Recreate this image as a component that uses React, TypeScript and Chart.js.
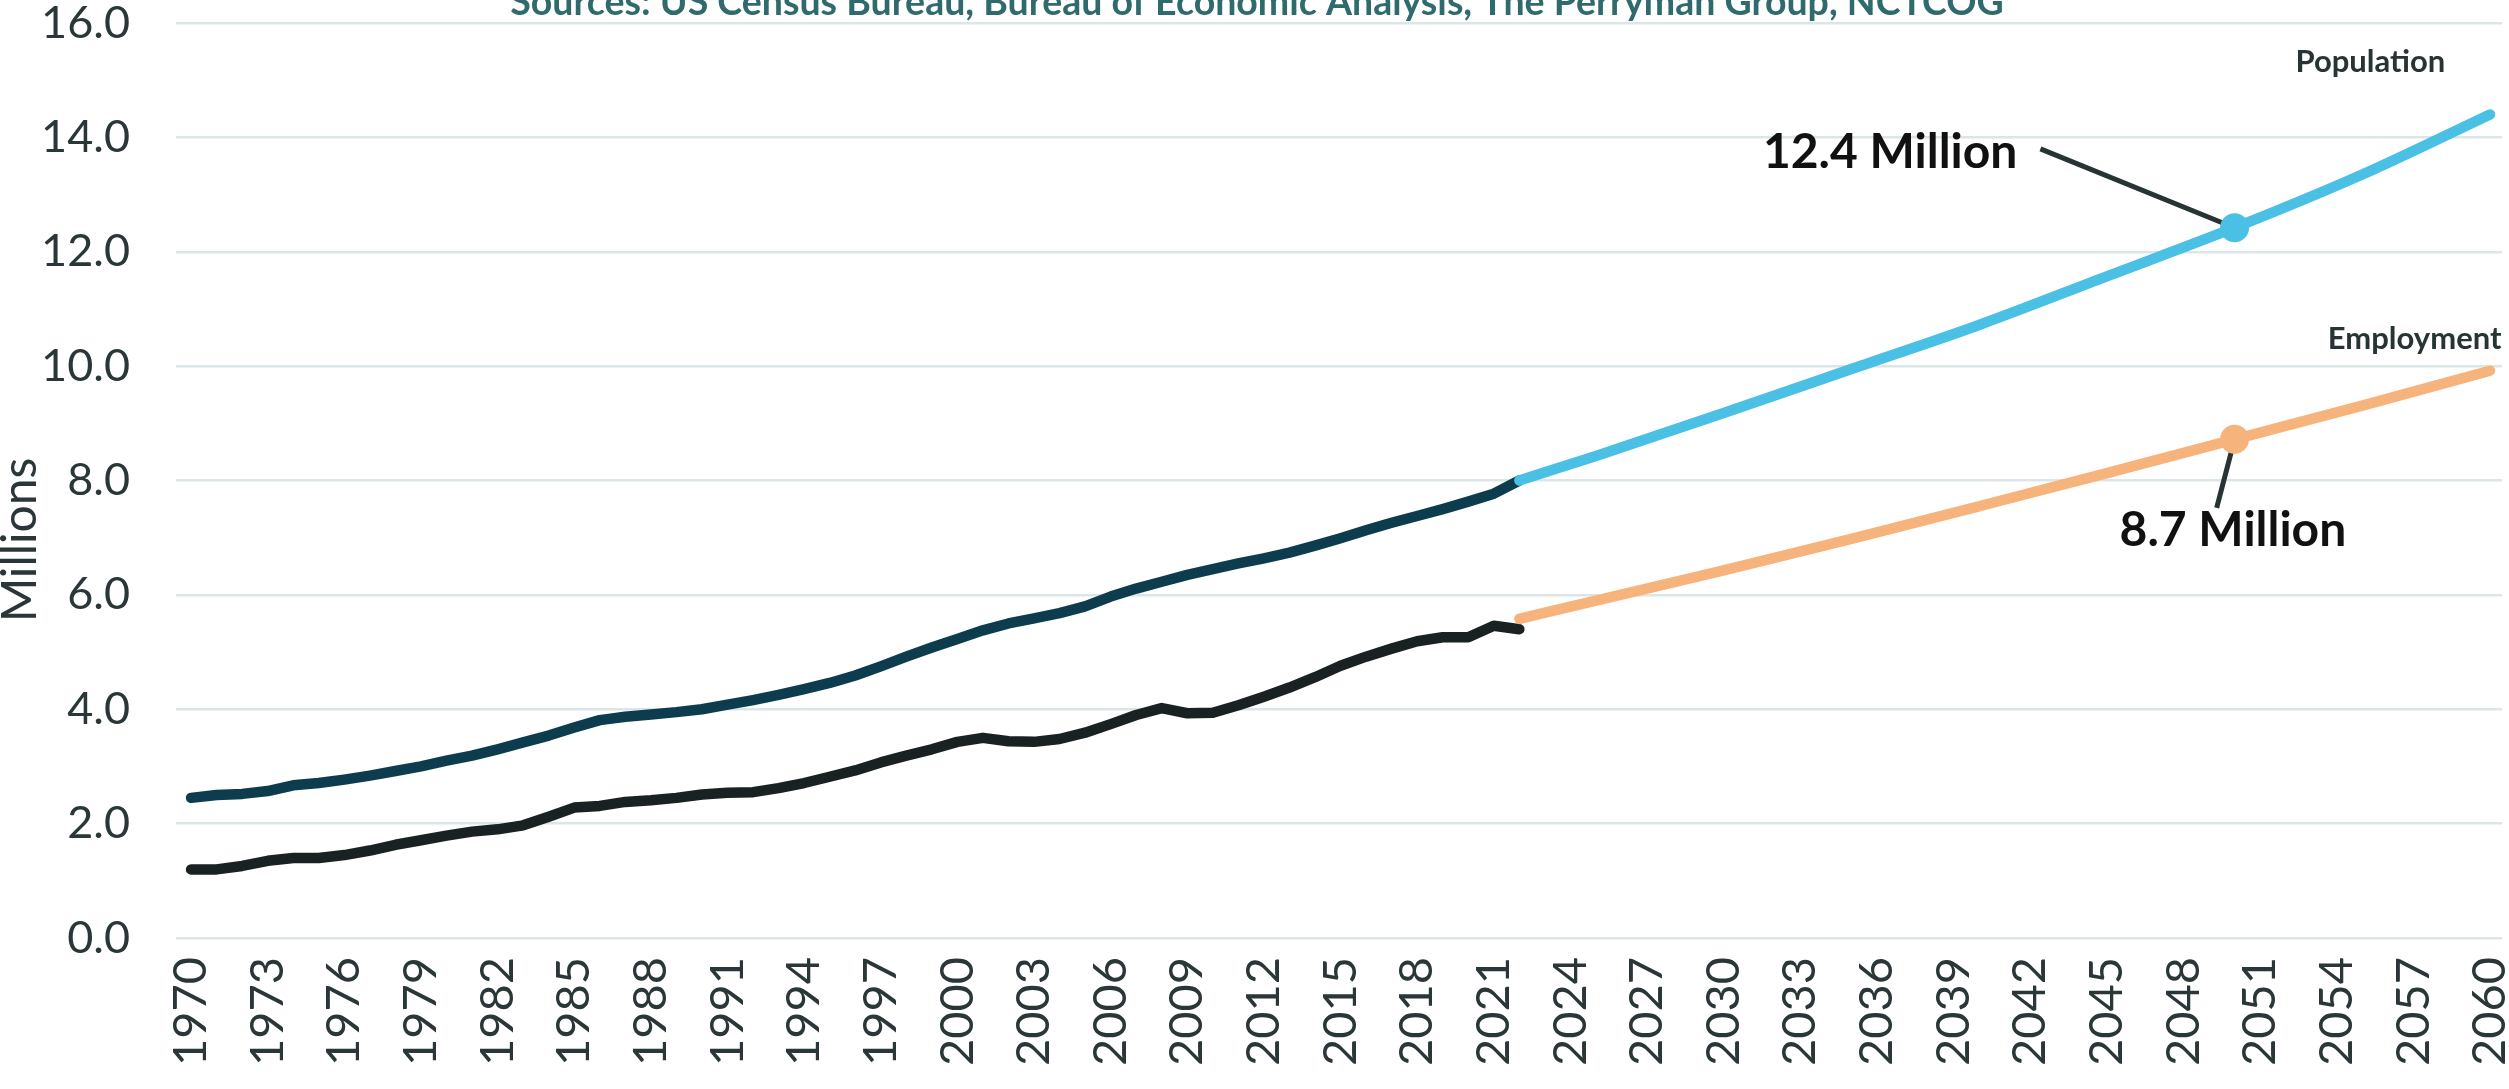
import React, { useEffect, useRef } from "react";
import { Chart, registerables } from "chart.js";

Chart.register(...registerables);

// ---- Data (millions) ----
const histYears = [
  1970, 1971, 1972, 1973, 1974, 1975, 1976, 1977, 1978, 1979,
  1980, 1981, 1982, 1983, 1984, 1985, 1986, 1987, 1988, 1989,
  1990, 1991, 1992, 1993, 1994, 1995, 1996, 1997, 1998, 1999,
  2000, 2001, 2002, 2003, 2004, 2005, 2006, 2007, 2008, 2009,
  2010, 2011, 2012, 2013, 2014, 2015, 2016, 2017, 2018, 2019,
  2020, 2021, 2022,
];
const populationHist = [
  2.45, 2.5, 2.52, 2.57, 2.67, 2.71, 2.77, 2.84, 2.92, 3.0,
  3.1, 3.19, 3.3, 3.42, 3.54, 3.68, 3.81, 3.87, 3.91, 3.95,
  4.0, 4.08, 4.16, 4.25, 4.35, 4.46, 4.59, 4.75, 4.92, 5.08,
  5.23, 5.38, 5.5, 5.59, 5.68, 5.8, 5.97, 6.11, 6.23, 6.35,
  6.45, 6.55, 6.64, 6.74, 6.86, 6.99, 7.13, 7.26, 7.38, 7.5,
  7.63, 7.77, 8.0,
];
const employmentHist = [
  1.2, 1.2, 1.26, 1.35, 1.4, 1.4, 1.45, 1.53, 1.63, 1.71,
  1.79, 1.86, 1.9, 1.97, 2.12, 2.28, 2.31, 2.38, 2.41, 2.45,
  2.51, 2.54, 2.55, 2.62, 2.71, 2.82, 2.93, 3.07, 3.19, 3.3,
  3.43, 3.5, 3.44, 3.43, 3.48, 3.59, 3.74, 3.9, 4.02, 3.93,
  3.94, 4.07, 4.22, 4.38, 4.56, 4.76, 4.92, 5.06, 5.19, 5.26,
  5.26, 5.46, 5.4,
];
const projYears = [2022, 2025, 2030, 2035, 2040, 2045, 2050, 2055, 2060];
const populationProj = [8.0, 8.43, 9.18, 9.95, 10.72, 11.57, 12.42, 13.35, 14.4];
const employmentProj = [5.58, 5.9, 6.43, 6.98, 7.55, 8.13, 8.72, 9.31, 9.92];
const highlightYear = 2050;

const xTickYears = [
  1970, 1973, 1976, 1979, 1982, 1985, 1988, 1991, 1994, 1997, 2000,
  2003, 2006, 2009, 2012, 2015, 2018, 2021, 2024, 2027, 2030, 2033,
  2036, 2039, 2042, 2045, 2048, 2051, 2054, 2057, 2060,
];

const titleText =
  "Sources: US Census Bureau, Bureau of Economic Analysis, The Perryman Group, NCTCOG";
const yAxisTitle = "Millions";
const popCallout = "12.4 Million";
const empCallout = "8.7 Million";
const popLabel = "Population";
const empLabel = "Employment";

const COLORS = {
  popHist: "#0c3c4e",
  popProj: "#4ac0e4",
  empHist: "#1a2122",
  empProj: "#f6b37c",
  grid: "#dce5e7",
  tick: "#2a3637",
  title: "#2f6a6c",
  leader: "#263433",
};

const toPoints = (xs: number[], ys: number[]) => xs.map((x, i) => ({ x, y: ys[i] }));

const overlayPlugin = {
  id: "overlay",
  beforeDatasetsDraw(chart: any) {
    const { ctx, scales } = chart;
    const x = scales.x;
    const y = scales.y;
    ctx.save();
    ctx.strokeStyle = COLORS.leader;
    ctx.lineWidth = 5;
    ctx.beginPath();
    ctx.moveTo(x.getPixelForValue(2042.4), y.getPixelForValue(13.8));
    ctx.lineTo(x.getPixelForValue(highlightYear), y.getPixelForValue(12.42));
    ctx.moveTo(x.getPixelForValue(highlightYear), y.getPixelForValue(8.72));
    ctx.lineTo(x.getPixelForValue(2049.3), y.getPixelForValue(7.52));
    ctx.stroke();
    ctx.restore();
  },
  afterDraw(chart: any) {
    const { ctx, scales } = chart;
    const x = scales.x;
    const y = scales.y;
    ctx.save();
    // Source line (partly cut at the top)
    ctx.fillStyle = COLORS.title;
    ctx.font = "bold 37.5px Lato";
    ctx.textAlign = "center";
    ctx.textBaseline = "alphabetic";
    ctx.fillText(titleText, 1257, 15);

    // Y axis title
    ctx.save();
    ctx.translate(21, 540);
    ctx.rotate(-Math.PI / 2);
    ctx.fillStyle = COLORS.tick;
    ctx.font = "48px Lato";
    ctx.textAlign = "center";
    ctx.textBaseline = "middle";
    ctx.fillText(yAxisTitle, 0, 0);
    ctx.restore();

    // Callouts
    ctx.fillStyle = "#111111";
    ctx.font = "bold 48px Lato";
    ctx.textBaseline = "middle";
    ctx.textAlign = "right";
    ctx.fillText(popCallout, x.getPixelForValue(2041.5), y.getPixelForValue(13.74));
    ctx.textAlign = "left";
    ctx.fillText(empCallout, x.getPixelForValue(2045.5), y.getPixelForValue(7.12));

    // Series labels
    ctx.fillStyle = "#283434";
    ctx.font = "bold 31px Lato";
    ctx.textAlign = "right";
    ctx.fillText(popLabel, x.getPixelForValue(2058.25), y.getPixelForValue(15.31));
    ctx.fillText(empLabel, x.getPixelForValue(2060.45), y.getPixelForValue(10.47));
    ctx.restore();
  },
};

export default function App() {
  const canvasRef = useRef<HTMLCanvasElement | null>(null);

  useEffect(() => {
    const canvas = canvasRef.current;
    if (!canvas) return;
    Chart.defaults.font.family = "Lato";

    const lineBase = {
      borderWidth: 10.5,
      borderCapStyle: "round" as const,
      borderJoinStyle: "round" as const,
      tension: 0,
      fill: false,
      pointRadius: 0,
      pointHoverRadius: 0,
    };

    const dotRadius = (c: any) => (c.raw && c.raw.x === highlightYear ? 14.5 : 0);

    const chart = new Chart(canvas, {
      type: "line",
      data: {
        datasets: [
          {
            ...lineBase,
            label: "Population projection",
            data: toPoints(projYears, populationProj),
            borderColor: COLORS.popProj,
            backgroundColor: COLORS.popProj,
            pointBackgroundColor: COLORS.popProj,
            pointBorderWidth: 0,
            pointRadius: dotRadius,
            cubicInterpolationMode: "monotone",
          },
          {
            ...lineBase,
            label: "Employment projection",
            data: toPoints(projYears, employmentProj),
            borderColor: COLORS.empProj,
            backgroundColor: COLORS.empProj,
            pointBackgroundColor: COLORS.empProj,
            pointBorderWidth: 0,
            pointRadius: dotRadius,
            cubicInterpolationMode: "monotone",
          },
          {
            ...lineBase,
            label: "Population",
            data: toPoints(histYears, populationHist),
            borderColor: COLORS.popHist,
            backgroundColor: COLORS.popHist,
          },
          {
            ...lineBase,
            label: "Employment",
            data: toPoints(histYears, employmentHist),
            borderColor: COLORS.empHist,
            backgroundColor: COLORS.empHist,
          },
        ],
      },
      options: {
        responsive: false,
        maintainAspectRatio: false,
        animation: false,
        devicePixelRatio: 1,
        events: [],
        layout: { padding: { top: 23, right: 7, bottom: 0, left: 0 } },
        plugins: {
          legend: { display: false },
          tooltip: { enabled: false },
          title: { display: false },
        },
        scales: {
          x: {
            type: "linear",
            min: 1969.41,
            max: 2060.47,
            grid: { display: false, drawTicks: false },
            border: { display: false },
            afterBuildTicks: (s: any) => {
              s.ticks = xTickYears.map((v) => ({ value: v }));
            },
            afterFit: (s: any) => {
              s.height = 151;
              s.paddingLeft = 0;
              s.paddingRight = 0;
            },
            ticks: {
              autoSkip: false,
              minRotation: 90,
              maxRotation: 90,
              padding: 19,
              color: COLORS.tick,
              font: { size: 47, family: "Lato" },
              callback: (v: any) => String(v),
            },
          },
          y: {
            type: "linear",
            min: 0,
            max: 16,
            grid: { color: COLORS.grid, lineWidth: 2.5, drawTicks: false },
            border: { display: false },
            afterFit: (s: any) => {
              s.width = 176;
              s.paddingTop = 0;
              s.paddingBottom = 0;
            },
            ticks: {
              stepSize: 2,
              padding: 46,
              color: COLORS.tick,
              font: { size: 45, family: "Lato", lineHeight: 1 },
              callback: (v: any) => Number(v).toFixed(1),
            },
          },
        },
      },
      plugins: [overlayPlugin],
    });

    return () => chart.destroy();
  }, []);

  return (
    <div style={{ position: "absolute", left: 0, top: 0, width: 2509, height: 1089, background: "#ffffff" }}>
      <canvas ref={canvasRef} width={2509} height={1089} style={{ width: 2509, height: 1089, display: "block" }} />
    </div>
  );
}
